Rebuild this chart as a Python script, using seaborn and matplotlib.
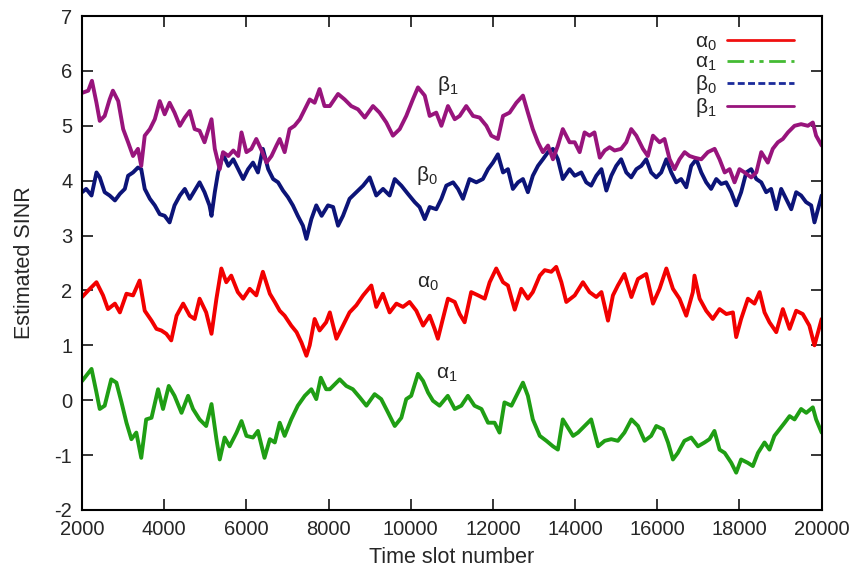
import seaborn as sns
import matplotlib.pyplot as plt
from matplotlib.lines import Line2D

# alpha_0 (red)
a0_t = [2000, 2150, 2350, 2510, 2630, 2800, 2920, 3080, 3240, 3400, 3525, 3690, 3810, 3930, 4050, 4170,
        4300, 4460, 4620, 4740, 4860, 5020, 5150, 5270, 5390, 5510, 5630, 5790, 5920, 6080, 6240, 6400,
        6570, 6690, 6810, 6930, 7090, 7220, 7340, 7460, 7540, 7660, 7780, 7940, 8030, 8190, 8350, 8510,
        8675, 8840, 9040, 9160, 9320, 9485, 9650, 9810, 9970, 10135, 10300, 10460, 10580, 10660, 10780,
        10905, 11070, 11190, 11310, 11470, 11640, 11800, 11920, 12080, 12245, 12365, 12530, 12690, 12850,
        12970, 13140, 13260, 13420, 13540, 13665, 13785, 13990, 14190, 14350, 14515, 14640, 14800, 14920,
        15040, 15200, 15370, 15530, 15730, 15895, 16055, 16220, 16380, 16540, 16705, 16865, 16905, 17030,
        17190, 17350, 17515, 17680, 17840, 17920, 18040, 18205, 18365, 18490, 18610, 18730, 18895, 19055,
        19220, 19380, 19540, 19700, 19825, 20000]
a0_v = [1.88, 2.0, 2.15, 1.91, 1.66, 1.76, 1.6, 1.94, 1.91, 2.18, 1.63, 1.45, 1.3, 1.27, 1.21, 1.09,
        1.54, 1.76, 1.54, 1.48, 1.85, 1.6, 1.21, 1.85, 2.4, 2.15, 2.27, 1.97, 1.85, 2.03, 1.91, 2.34,
        1.94, 1.79, 1.63, 1.54, 1.36, 1.24, 1.05, 0.81, 1.0, 1.48, 1.27, 1.42, 1.6, 1.12, 1.36, 1.6,
        1.73, 1.91, 2.09, 1.7, 1.94, 1.6, 1.76, 1.7, 1.79, 1.63, 1.36, 1.54, 1.3, 1.12, 1.48,
        1.85, 1.79, 1.57, 1.42, 1.97, 1.91, 1.85, 2.15, 2.4, 2.15, 2.09, 1.65, 2.03, 1.85,
        1.97, 2.27, 2.37, 2.34, 2.43, 2.15, 1.79, 1.91, 2.15, 1.97, 1.88, 1.97, 1.45, 1.91,
        2.09, 2.3, 1.88, 2.21, 2.3, 1.76, 2.03, 2.4, 2.03, 1.85, 1.54, 1.97, 2.27, 1.85,
        1.63, 1.48, 1.66, 1.57, 1.6, 1.15, 1.48, 1.85, 1.76, 1.97, 1.6, 1.42, 1.24, 1.66,
        1.3, 1.63, 1.57, 1.36, 1.0, 1.48]

# alpha_1 (green)
a1_t = [2000, 2230, 2350, 2430, 2550, 2710, 2835, 2960, 3080, 3200, 3320, 3440, 3560, 3690, 3850, 3970,
        4110, 4250, 4420, 4580, 4700, 4860, 5020, 5150, 5270, 5350, 5470, 5590, 5760, 5880, 6000, 6160,
        6280, 6440, 6570, 6690, 6810, 6930, 7090, 7250, 7420, 7580, 7700, 7810, 7940, 8030, 8270, 8430,
        8590, 8760, 8920, 9120, 9280, 9450, 9610, 9770, 9890, 10010, 10175, 10300, 10420, 10540, 10700,
        10900, 11070, 11230, 11390, 11550, 11720, 11880, 12040, 12160, 12280, 12450, 12610, 12730, 12850,
        12970, 13140, 13300, 13460, 13580, 13700, 13950, 14070, 14230, 14390, 14560, 14720, 14880, 15040,
        15200, 15370, 15530, 15690, 15850, 15975, 16140, 16260, 16380, 16500, 16660, 16825, 16990, 17150,
        17270, 17390, 17515, 17640, 17800, 17920, 18040, 18200, 18325, 18450, 18610, 18730, 18850, 18975,
        19100, 19220, 19340, 19500, 19625, 19785, 19865, 20000]
a1_v = [0.35, 0.57, 0.14, -0.16, -0.1, 0.38, 0.32, -0.04, -0.41, -0.71, -0.59, -1.05, -0.35, -0.32, 0.2, -0.16,
        0.26, 0.08, -0.23, 0.08, -0.16, -0.35, -0.47, -0.07, -0.71, -1.08, -0.68, -0.84, -0.59, -0.38, -0.65, -0.68,
        -0.56, -1.05, -0.71, -0.77, -0.41, -0.65, -0.35, -0.1, 0.08, 0.2, 0.02, 0.41, 0.2, 0.2, 0.38, 0.26,
        0.2, 0.05, -0.1, 0.11, 0.02, -0.23, -0.47, -0.32, 0.02, 0.08, 0.48, 0.35, 0.14, -0.01, -0.1,
        0.08, -0.16, -0.1, 0.08, -0.1, -0.16, -0.41, -0.41, -0.59, -0.04, -0.1, 0.14, 0.32, 0.08,
        -0.35, -0.65, -0.74, -0.84, -0.9, -0.35, -0.65, -0.59, -0.47, -0.35, -0.84, -0.74, -0.71, -0.74,
        -0.59, -0.35, -0.47, -0.74, -0.65, -0.47, -0.53, -0.77, -1.08, -0.96, -0.74, -0.68, -0.84, -0.77,
        -0.71, -0.56, -0.9, -0.96, -1.14, -1.32, -1.08, -1.14, -1.2, -0.96, -0.77, -0.9, -0.65, -0.53,
        -0.41, -0.29, -0.35, -0.16, -0.23, -0.13, -0.35, -0.59]

# beta_0 (navy)
b0_t = [2000, 2100, 2230, 2350, 2430, 2550, 2670, 2800, 2920, 3040, 3120, 3240, 3360, 3440, 3525, 3650,
        3770, 3890, 4010, 4130, 4250, 4380, 4500, 4620, 4740, 4860, 4980, 5100, 5150, 5230, 5310, 5430,
        5560, 5680, 5800, 5920, 6040, 6160, 6280, 6400, 6530, 6650, 6770, 6890, 7010, 7130, 7250, 7375,
        7460, 7580, 7700, 7830, 7985, 8110, 8230, 8350, 8510, 8675, 8840, 9000, 9160, 9325, 9485, 9610,
        9770, 9930, 10095, 10215, 10340, 10460, 10620, 10745, 10865, 11030, 11150, 11270, 11430, 11595,
        11755, 11880, 12000, 12120, 12245, 12365, 12485, 12610, 12730, 12850, 12970, 13095, 13215, 13340,
        13460, 13580, 13700, 13865, 13990, 14150, 14270, 14390, 14515, 14640, 14760, 14880, 15000, 15120,
        15245, 15365, 15490, 15610, 15730, 15850, 15975, 16095, 16220, 16340, 16460, 16580, 16705, 16825,
        16950, 17070, 17190, 17310, 17435, 17555, 17675, 17800, 17920, 18040, 18165, 18285, 18410, 18530,
        18650, 18770, 18895, 19015, 19135, 19260, 19380, 19500, 19620, 19745, 19825, 20000]
b0_v = [3.79, 3.85, 3.73, 4.15, 4.06, 3.79, 3.73, 3.64, 3.76, 3.85, 4.09, 4.15, 4.24, 4.21, 3.85, 3.67,
        3.55, 3.39, 3.36, 3.24, 3.55, 3.73, 3.85, 3.67, 3.82, 3.97, 3.79, 3.55, 3.36, 3.79, 4.15, 4.48,
        4.27, 4.39, 4.21, 4.03, 4.21, 4.33, 4.15, 4.58, 4.21, 4.03, 3.97, 3.82, 3.7, 3.55, 3.36, 3.18,
        2.94, 3.3, 3.55, 3.36, 3.55, 3.52, 3.18, 3.36, 3.67, 3.79, 3.91, 4.06, 3.73, 3.85, 3.73, 4.03,
        3.91, 3.76, 3.61, 3.52, 3.3, 3.52, 3.48, 3.67, 3.91, 3.97, 3.85, 3.67, 4.03, 3.97,
        4.03, 4.21, 4.33, 4.48, 4.15, 4.21, 3.85, 3.97, 4.03, 3.79, 4.09, 4.27, 4.39, 4.52,
        4.58, 4.39, 4.03, 4.21, 4.09, 4.15, 3.97, 3.91, 4.09, 4.21, 3.82, 4.09, 4.27, 4.39,
        4.15, 4.06, 4.21, 4.27, 4.39, 4.15, 4.06, 4.15, 4.39, 4.15, 3.97, 4.03, 3.88, 4.27,
        4.39, 4.15, 3.97, 3.85, 4.03, 3.94, 3.97, 3.79, 3.55, 3.79, 4.15, 4.21, 4.03, 3.97,
        3.79, 3.85, 3.48, 3.85, 3.67, 3.48, 3.79, 3.73, 3.61, 3.55, 3.24, 3.73]

# beta_1 (purple)
b1_t = [2000, 2150, 2240, 2350, 2430, 2550, 2670, 2750, 2880, 3000, 3120, 3240, 3360, 3440, 3525, 3650,
        3770, 3890, 4010, 4130, 4250, 4380, 4500, 4620, 4740, 4860, 4980, 5150, 5230, 5350, 5430, 5560,
        5680, 5800, 5880, 6000, 6120, 6240, 6370, 6490, 6610, 6730, 6810, 6930, 7050, 7170, 7300, 7420,
        7540, 7660, 7780, 7900, 8030, 8230, 8390, 8550, 8715, 8880, 9080, 9240, 9405, 9565, 9730, 9890,
        10050, 10175, 10340, 10460, 10620, 10745, 10905, 11070, 11190, 11350, 11515, 11675, 11840, 11960,
        12120, 12245, 12405, 12570, 12730, 12850, 12970, 13095, 13215, 13340, 13460, 13580, 13700, 13865,
        13990, 14110, 14230, 14350, 14470, 14600, 14720, 14840, 14960, 15120, 15245, 15365, 15490, 15650,
        15770, 15895, 16055, 16175, 16300, 16420, 16540, 16665, 16785, 16905, 17070, 17230, 17395, 17515,
        17640, 17760, 17880, 18000, 18125, 18285, 18410, 18530, 18690, 18810, 18935, 19055, 19180, 19340,
        19500, 19665, 19785, 19865, 20000]
b1_v = [5.6, 5.64, 5.82, 5.42, 5.09, 5.18, 5.48, 5.64, 5.45, 4.94, 4.7, 4.45, 4.58, 4.27, 4.82, 4.94,
        5.12, 5.45, 5.21, 5.42, 5.24, 5.0, 5.15, 5.27, 4.94, 4.91, 4.7, 5.12, 4.58, 4.21, 4.52, 4.45,
        4.55, 4.45, 4.88, 4.52, 4.58, 4.76, 4.55, 4.33, 4.45, 4.64, 4.76, 4.52, 4.94, 5.0, 5.12, 5.3,
        5.48, 5.42, 5.67, 5.36, 5.36, 5.58, 5.48, 5.36, 5.3, 5.15, 5.36, 5.24, 5.06, 4.82, 4.94, 5.18,
        5.48, 5.7, 5.55, 5.18, 5.24, 5.0, 5.36, 5.12, 5.18, 5.36, 5.18, 5.15, 5.0, 4.82,
        4.76, 5.18, 5.24, 5.42, 5.55, 5.24, 4.94, 4.7, 4.52, 4.64, 4.39, 4.64, 4.94, 4.7,
        4.7, 4.52, 4.88, 4.82, 4.88, 4.42, 4.55, 4.61, 4.55, 4.58, 4.7, 4.94, 4.82, 4.58,
        4.45, 4.82, 4.7, 4.76, 4.39, 4.21, 4.39, 4.52, 4.45, 4.42, 4.39, 4.52, 4.58, 4.39,
        4.15, 4.21, 3.97, 4.21, 4.15, 4.06, 4.15, 4.52, 4.33, 4.58, 4.7, 4.76, 4.88, 5.0,
        5.03, 5.0, 5.06, 4.82, 4.64]

series_labels = [r'$\mathregular{\alpha_0}$', r'$\mathregular{\alpha_1}$',
                 r'$\mathregular{\beta_0}$', r'$\mathregular{\beta_1}$']
colors = ['#f20000', '#1f9e14', '#0c1478', '#98147c']
legend_colors = ['#f01010', '#44bb33', '#1a2a9a', '#98147c']
legend_dashes = [(None, None), (6, 2, 1.5, 2, 1.5, 2), (2.5, 1.2), (None, None)]

sns.set_style('ticks')
plt.rcParams['font.family'] = ['Liberation Sans', 'DejaVu Sans']
plt.rcParams['mathtext.fontset'] = 'custom'
plt.rcParams['mathtext.rm'] = 'Liberation Sans'
plt.rcParams['axes.unicode_minus'] = False

fig = plt.figure(figsize=(8.55, 5.73), dpi=100)
ax = fig.add_axes([0.096, 0.110, 0.865, 0.862])

for t, v, c in zip([a0_t, a1_t, b0_t, b1_t], [a0_v, a1_v, b0_v, b1_v], colors):
    sns.lineplot(x=t, y=v, color=c, lw=2.8, ax=ax, estimator=None, sort=False)

# in-plot curve labels
ax.text(10900, 5.74, series_labels[3], fontsize=15, ha='center', va='center')
ax.text(10400, 4.10, series_labels[2], fontsize=15, ha='center', va='center')
ax.text(10420, 2.13, series_labels[0], fontsize=15, ha='center', va='center')
ax.text(10880, 0.46, series_labels[1], fontsize=15, ha='center', va='center')

handles = []
for c, d in zip(legend_colors, legend_dashes):
    h = Line2D([0], [0], color=c, lw=2)
    if d[0] is not None:
        h.set_dashes(d)
    handles.append(h)
ax.legend(handles, series_labels, loc='upper right', bbox_to_anchor=(0.985, 1.0),
          frameon=False, markerfirst=False, fontsize=15, handlelength=3.2,
          labelspacing=0.0, handletextpad=0.5, borderpad=0.3)

ax.set_xlim(2000, 20000)
ax.set_ylim(-2, 7)
ax.set_xticks(range(2000, 20001, 2000))
ax.set_yticks(range(-2, 8))
ax.tick_params(direction='in', length=8, width=1.3, labelsize=14.5, top=True, right=True, pad=7)
for s in ax.spines.values():
    s.set_linewidth(1.5)
    s.set_color('black')
ax.set_xlabel('Time slot number', fontsize=15.5, labelpad=6)
ax.set_ylabel('Estimated SINR', fontsize=15.5, labelpad=14)

fig.savefig('out.png', dpi=100)
